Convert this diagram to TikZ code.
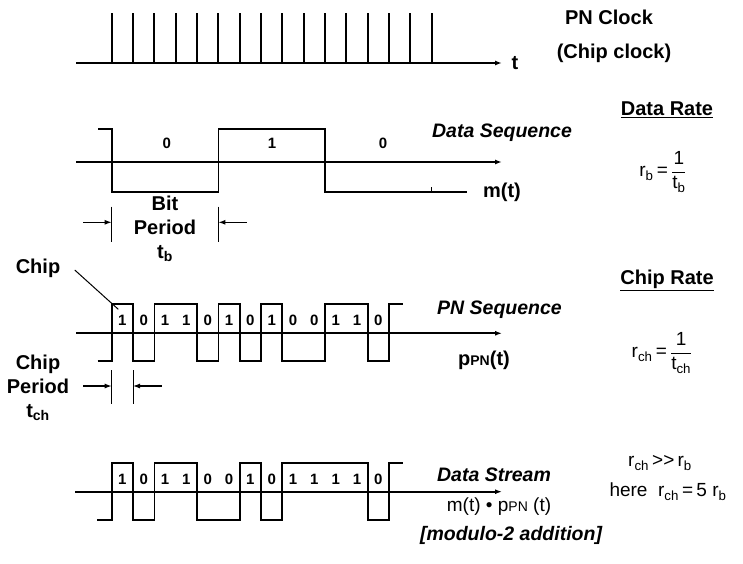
\documentclass[tikz,border=0pt]{standalone}
\usepackage{fontspec}
\setmainfont{Liberation Sans}
\usetikzlibrary{arrows.meta}

\begin{document}
\begin{tikzpicture}[x=1pt,y=-1pt,>={Latex[length=7pt,width=5pt]},
font=\fontsize{20}{24}\selectfont\bfseries,
axis/.style={->,line width=1.8pt},
wave/.style={line width=1.8pt,line join=miter},
thin/.style={line width=1pt},
arr/.style={->,line width=1.2pt},
bit/.style={font=\fontsize{15}{17}\selectfont\bfseries,inner sep=0pt},
lbl/.style={font=\fontsize{19.5}{23}\selectfont\bfseries\itshape},
txt/.style={font=\fontsize{19}{23}\selectfont},
stack/.style={align=center,font=\fontsize{20}{24}\selectfont\bfseries}]
\useasboundingbox (0,0) rectangle (743,563);

\draw[axis] (76,63) -- (502,63);
\foreach \i in {0,...,15} \draw[line width=1.8pt] (111.7+21.33*\i,13) -- (111.7+21.33*\i,63);
\node (t) at (515,63) {t};
\node (clk) at (609,17) {PN Clock};
\node (chipclk) at (614,53) {(Chip clock)};

\draw[axis] (76,162) -- (502,162);
\draw[wave] (98.3,129) -- (111.7,129) -- (111.7,192) -- (218.4,192) -- (218.4,129) -- (325,129) -- (325,192) -- (466.7,192);
\draw[thin] (431.7,192) -- (431.7,186.5);
\node[bit] (d0) at (166.7,143) {0};
\node[bit] (d1) at (272,143) {1};
\node[bit] (d2) at (383,143) {0};
\node[lbl] (dseq) at (502,133) {Data Sequence};
\node (mt) at (502,192) {m(t)};
\node (drate) at (667,110) {\underline{Data Rate}};
\node[txt] (rb) at (663,172) {r\textsubscript{b}\,=\,$\displaystyle\frac{\mbox{1}}{\mbox{t\textsubscript{b}}}$};

\coordinate (bl) at (111.7,206.7); \coordinate (bl') at (111.7,241.7);
\coordinate (br) at (218.4,206.7); \coordinate (br') at (218.4,241.7);
\coordinate (bla) at (83,222.3); \coordinate (bra) at (246.7,222.3);
\draw[thin] (bl) -- (bl'); \draw[thin] (br) -- (br');
\draw[arr] (bla) -- (bl|-bla); \draw[arr] (bra) -- (br|-bra);
\node[stack] (bitper) at (165,229) {Bit\\Period\\t\textsubscript{b}};

\draw[axis] (76,333.3) -- (502,333.3);
\draw[wave] (97.7,361) -- (111.7,361) -- (111.7,304) -- (133,304) -- (133,361) -- (154.4,361) -- (154.4,304) -- (197,304) -- (197,361) -- (218.4,361) -- (218.4,304) -- (239.7,304) -- (239.7,361) -- (261,361) -- (261,304) -- (282.3,304) -- (282.3,361) -- (325,361) -- (325,304) -- (367.7,304) -- (367.7,361) -- (389,361) -- (389,304) -- (403,304);
\foreach \b [count=\i from 0] in {1,0,1,1,0,1,0,1,0,0,1,1,0}
  \node[bit] (pn\i) at (122.4+21.33*\i,320) {\b};
\node (chip) at (38,268) {Chip};
\coordinate (chiptip) at (118.3,309.3);
\draw[thin] (chip.east) ++(11,2) -- (chiptip);
\node[lbl] (pnseq) at (499.5,310) {PN Sequence};
\node (ppn) at (484,360) {p{\fontsize{14}{16}\selectfont PN}(t)};
\node (crate) at (667,280) {\underline{Chip Rate}};
\node[txt] (rch) at (662,353) {r\textsubscript{ch}\,=\,$\displaystyle\frac{\mbox{1}}{\mbox{t\textsubscript{ch}}}$};

\coordinate (cl) at (111.7,370); \coordinate (cl') at (111.7,404);
\coordinate (cr) at (133,370); \coordinate (cr') at (133,404);
\coordinate (cla) at (83.3,386); \coordinate (cra) at (161.7,386);
\draw[thin] (cl) -- (cl'); \draw[thin] (cr) -- (cr');
\draw[arr] (cla) -- (cl|-cla); \draw[arr] (cra) -- (cr|-cra);
\node[stack] (chipper) at (38,388) {Chip\\Period\\t\textsubscript{ch}};

\draw[axis] (75,491.7) -- (502,491.7);
\draw[wave] (97.3,520) -- (111.7,520) -- (111.7,463) -- (133,463) -- (133,520) -- (154.4,520) -- (154.4,463) -- (197,463) -- (197,520) -- (239.7,520) -- (239.7,463) -- (261,463) -- (261,520) -- (282.3,520) -- (282.3,463) -- (367.7,463) -- (367.7,520) -- (389,520) -- (389,463) -- (403,463);
\foreach \b [count=\i from 0] in {1,0,1,1,0,0,1,0,1,1,1,1,0}
  \node[bit] (ds\i) at (122.4+21.33*\i,479) {\b};
\node[lbl] (dstream) at (494,475) {Data Stream};
\node[txt] (prod) at (499,507) {m(t) \textbullet\ p{\fontsize{14}{16}\selectfont PN} (t)};
\node[lbl] (mod2) at (511,535) {[modulo-2 addition]};
\node[txt] (gg) at (660,463) {r\textsubscript{ch}\,{>}{>}\,r\textsubscript{b}};
\node[txt] (here) at (668,492) {here\ \ r\textsubscript{ch}\,=\,5 r\textsubscript{b}};
\end{tikzpicture}
\end{document}
